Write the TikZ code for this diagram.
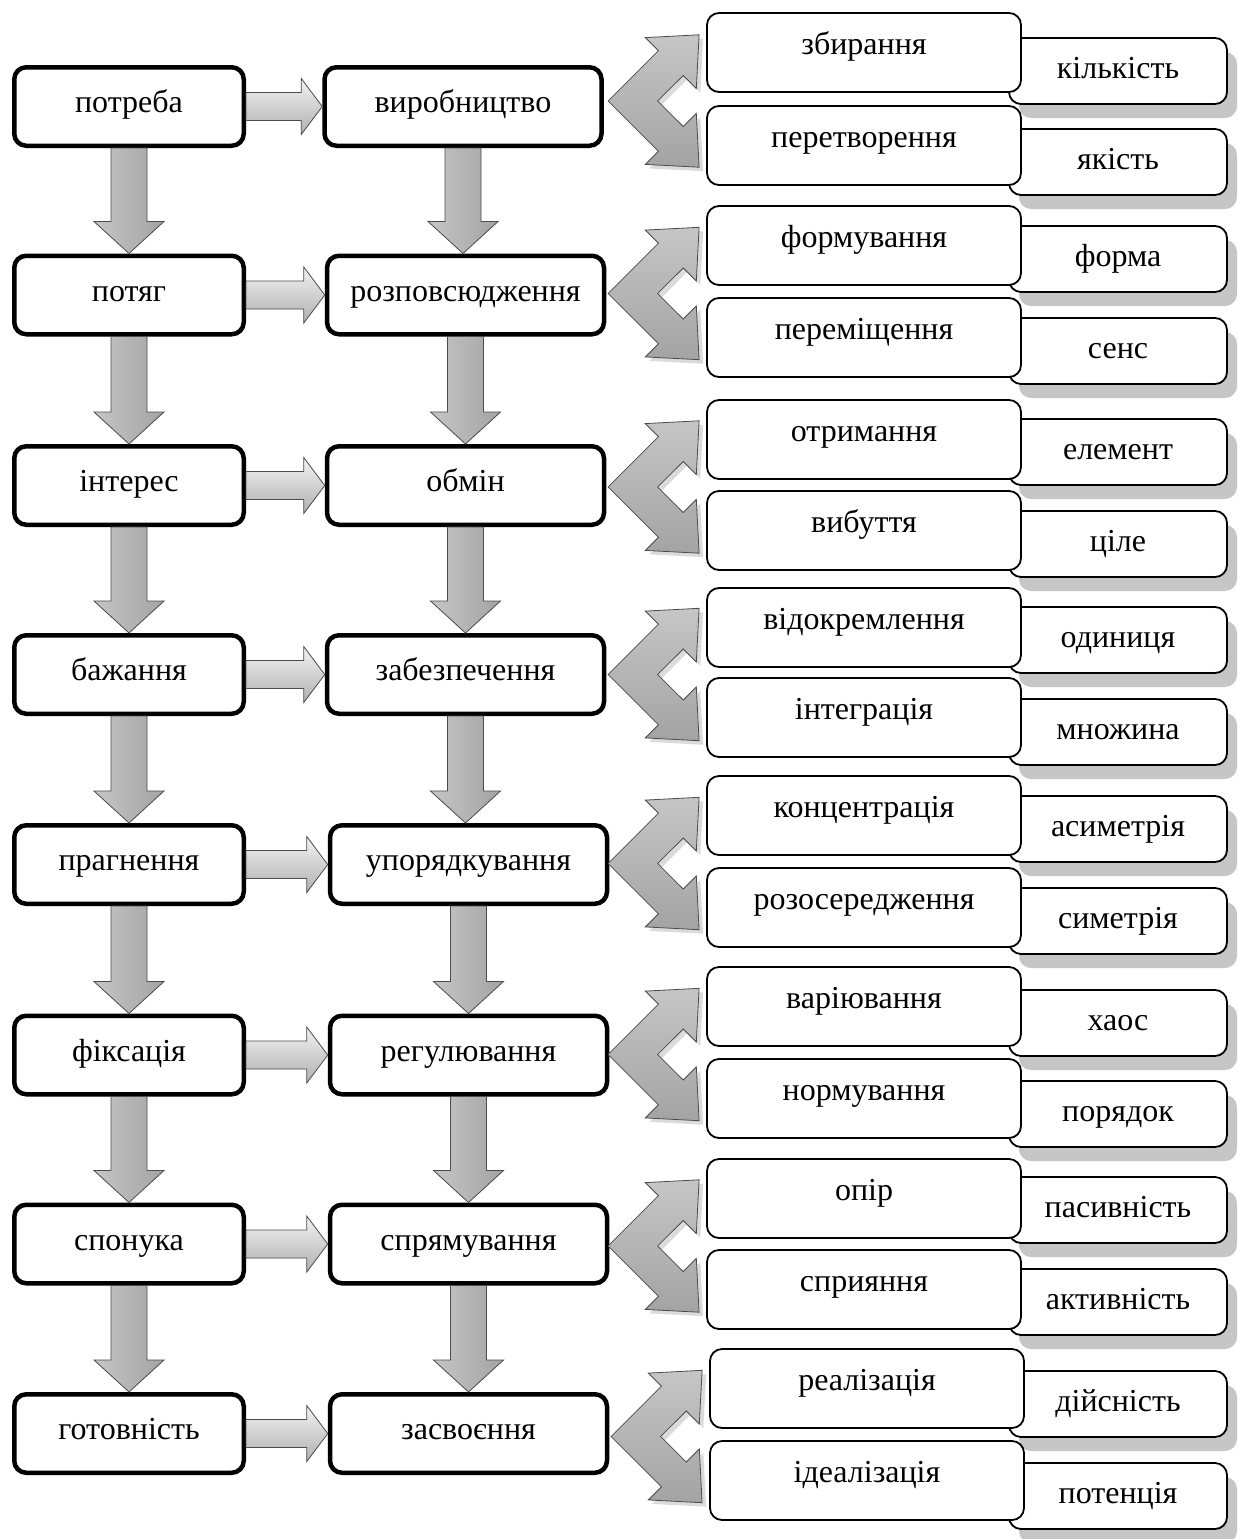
\documentclass[tikz,border=0pt]{standalone}
\usepackage{fontspec}
\setmainfont{Liberation Serif}
\usetikzlibrary{calc,shadows}
\newcommand{\bigf}{\fontsize{32}{38}\selectfont}
\newcommand{\downarr}[2]{%
  \path[arrshadow] let \p1=(#1.south), \p2=(#2.north) in
    (\x1-18pt,\y1) -- (\x1+18pt,\y1) -- (\x1+18pt,\y2+32pt) -- (\x1+35pt,\y2+32pt) -- (\x1,\y2) -- (\x1-35pt,\y2+32pt) -- (\x1-18pt,\y2+32pt) -- cycle;
  \path[downshade] let \p1=(#1.south), \p2=(#2.north) in
    (\x1-18pt,\y1) -- (\x1+18pt,\y1) -- (\x1+18pt,\y2+32pt) -- (\x1+35pt,\y2+32pt) -- (\x1,\y2) -- (\x1-35pt,\y2+32pt) -- (\x1-18pt,\y2+32pt) -- cycle;}
\newcommand{\rightarr}[2]{%
  \path[arrshadow] let \p1=(#1.east), \p2=(#2.west) in
    (\x1,\y1+14pt) -- (\x2-21pt,\y1+14pt) -- (\x2-21pt,\y1+28pt) -- (\x2,\y1) -- (\x2-21pt,\y1-28pt) -- (\x2-21pt,\y1-14pt) -- (\x1,\y1-14pt) -- cycle;
  \path[rightshade] let \p1=(#1.east), \p2=(#2.west) in
    (\x1,\y1+14pt) -- (\x2-21pt,\y1+14pt) -- (\x2-21pt,\y1+28pt) -- (\x2,\y1) -- (\x2-21pt,\y1-28pt) -- (\x2-21pt,\y1-14pt) -- (\x1,\y1-14pt) -- cycle;}
\begin{document}
\begin{tikzpicture}[x=1pt,y=-1pt,
  lbox/.style={draw, line width=4.5pt, rounded corners=12pt, fill=white, minimum height=78.5pt, text height=21pt, text depth=9pt, inner sep=0pt, font=\bigf},
  lboxa/.style={lbox, minimum width=229.5pt},
  lboxb/.style={lbox, minimum width=277pt},
  mbox/.style={draw, line width=1.8pt, rounded corners=12pt, fill=white, minimum width=314pt, minimum height=79pt, text height=17pt, text depth=13pt, inner sep=0pt, font=\bigf},
  rbox/.style={draw, line width=1.8pt, rounded corners=12pt, fill=white, minimum width=218pt, minimum height=66pt, text height=24pt, text depth=10pt, inner sep=0pt, font=\bigf, drop shadow={shadow xshift=10pt, shadow yshift=-14pt, fill=gray!45, opacity=1}},
  arrshadow/.style={fill=gray!35, xshift=3pt, yshift=-3pt},
  downshade/.style={left color=gray!45, middle color=gray!18, right color=gray!72, draw=gray!60!black, line width=0.8pt},
  rightshade/.style={top color=gray!10, bottom color=gray!62, draw=gray!60!black, line width=0.8pt},
  chevshade/.style={top color=gray!45, middle color=gray!8, bottom color=gray!72, draw=gray!60!black, line width=0.8pt},
  chevshadow/.style={fill=gray!28}
]
\useasboundingbox[fill=white] (0,0) rectangle (1238,1539);

% right column boxes (behind)
\node[rbox] (p1) at (1118,71) {кількість};
\node[rbox] (q1) at (1118,162) {якість};
\node[rbox] (p2) at (1118,259) {форма};
\node[rbox] (q2) at (1118,351) {сенс};
\node[rbox] (p3) at (1118,452) {елемент};
\node[rbox] (q3) at (1118,544) {ціле};
\node[rbox] (p4) at (1118,640) {одиниця};
\node[rbox] (q4) at (1118,732) {множина};
\node[rbox] (p5) at (1118,829) {асиметрія};
\node[rbox] (q5) at (1118,921) {симетрія};
\node[rbox] (p6) at (1118,1023) {хаос};
\node[rbox] (q6) at (1118,1114) {порядок};
\node[rbox] (p7) at (1118,1210) {пасивність};
\node[rbox] (q7) at (1118,1302) {активність};
\node[rbox] (p8) at (1118,1404) {дійсність};
\node[rbox] (q8) at (1118,1496) {потенція};

% middle column boxes
\node[mbox] (a1) at (864,52.5) {збирання};
\node[mbox] (b1) at (864,145.5) {перетворення};
\node[mbox] (a2) at (864,245.5) {формування};
\node[mbox] (b2) at (864,337.5) {переміщення};
\node[mbox] (a3) at (864,439.5) {отримання};
\node[mbox] (b3) at (864,530.5) {вибуття};
\node[mbox] (a4) at (864,627.5) {відокремлення};
\node[mbox] (b4) at (864,717.5) {інтеграція};
\node[mbox] (a5) at (864,815.5) {концентрація};
\node[mbox] (b5) at (864,907.5) {розосередження};
\node[mbox] (a6) at (864,1006.5) {варіювання};
\node[mbox] (b6) at (864,1098.5) {нормування};
\node[mbox] (a7) at (864,1198.5) {опір};
\node[mbox] (b7) at (864,1289.5) {сприяння};
\node[mbox] (a8) at (867,1388.5) {реалізація};
\node[mbox] (b8) at (867,1480.5) {ідеалізація};

% left columns
\node[lboxa] (l1) at (129,106.5) {потреба};
\node[lboxa] (l2) at (129,295) {потяг};
\node[lboxa] (l3) at (129,485.5) {інтерес};
\node[lboxa] (l4) at (129,674.5) {бажання};
\node[lboxa] (l5) at (129,864.5) {прагнення};
\node[lboxa] (l6) at (129,1055) {фіксація};
\node[lboxa] (l7) at (129,1244) {спонука};
\node[lboxa] (l8) at (129,1433.5) {готовність};

\node[lboxb] (r1) at (463,106.5) {виробництво};
\node[lboxb] (r2) at (465.5,295) {розповсюдження};
\node[lboxb] (r3) at (465.5,485.5) {обмін};
\node[lboxb] (r4) at (465.5,674.5) {забезпечення};
\node[lboxb] (r5) at (468.5,864.5) {упорядкування};
\node[lboxb] (r6) at (468.5,1055) {регулювання};
\node[lboxb] (r7) at (468.5,1244) {спрямування};
\node[lboxb] (r8) at (468.5,1433.5) {засвоєння};

% vertical arrows
\foreach \i/\j in {1/2,2/3,3/4,4/5,5/6,6/7,7/8}{
  \downarr{l\i}{l\j}
  \downarr{r\i}{r\j}
}
% horizontal arrows
\foreach \i in {1,...,8}{
  \rightarr{l\i}{r\i}
}
% chevrons
\foreach \k in {1,...,8}{
  \begin{scope}[shift={($(a\k.west)!0.5!(b\k.west)$)}]
    \begin{scope}[shift={(4,4)}]
      \path[chevshadow] (-98,2) -- (-47.7,-48.3) -- (-60.8,-61.4) -- (-7,-64.2) -- (-9.8,-10.4) -- (-22.9,-23.5) -- (-48.5,2) -- (-22.9,27.5) -- (-9.8,14.4) -- (-7,68.2) -- (-60.8,65.4) -- (-47.7,52.3) -- cycle;
    \end{scope}
    \path[chevshade] (-98,2) -- (-47.7,-48.3) -- (-60.8,-61.4) -- (-7,-64.2) -- (-9.8,-10.4) -- (-22.9,-23.5) -- (-48.5,2) -- (-22.9,27.5) -- (-9.8,14.4) -- (-7,68.2) -- (-60.8,65.4) -- (-47.7,52.3) -- cycle;
  \end{scope}
}
\end{tikzpicture}
\end{document}
